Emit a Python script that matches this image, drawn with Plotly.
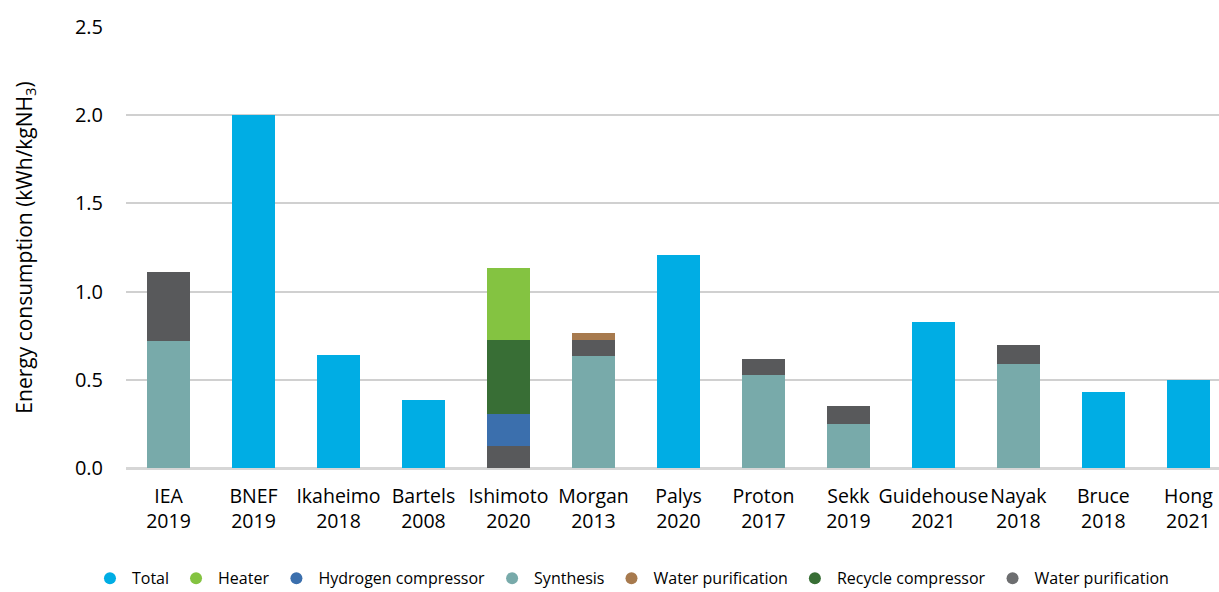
import plotly.graph_objects as go

categories = [
    "IEA<br>2019", "BNEF<br>2019", "Ikaheimo<br>2018", "Bartels<br>2008",
    "Ishimoto<br>2020", "Morgan<br>2013", "Palys<br>2020", "Proton<br>2017",
    "Sekk<br>2019", "Guidehouse<br>2021", "Nayak<br>2018", "Bruce<br>2018",
    "Hong<br>2021",
]

# stacked components per study (kWh/kgNH3), None where not reported
total = [None, 2.0, 0.64, 0.385, None, None, 1.207, None, None, 0.827, None, 0.43, 0.5]
synthesis = [0.72, None, None, None, None, 0.635, None, 0.527, 0.25, None, 0.59, None, None]
water_purif_grey = [0.39, None, None, None, 0.125, 0.09, None, 0.091, 0.1, None, 0.107, None, None]
hydrogen_comp = [None, None, None, None, 0.181, None, None, None, None, None, None, None, None]
recycle_comp = [None, None, None, None, 0.419, None, None, None, None, None, None, None, None]
heater = [None, None, None, None, 0.408, None, None, None, None, None, None, None, None]
water_purif_brown = [None, None, None, None, None, 0.04, None, None, None, None, None, None, None]

COLORS = {
    "Total": "#00ADE4",
    "Heater": "#84C341",
    "Hydrogen compressor": "#3B6FAD",
    "Synthesis": "#78AAAA",
    "Water purification brown": "#A77A4E",
    "Recycle compressor": "#386E35",
    "Water purification grey": "#58595B",
}

# drawing order = stacking order, bottom to top
stack = [
    ("Total", total),
    ("Synthesis", synthesis),
    ("Water purification grey", water_purif_grey),
    ("Hydrogen compressor", hydrogen_comp),
    ("Recycle compressor", recycle_comp),
    ("Heater", heater),
    ("Water purification brown", water_purif_brown),
]

legend_order = [
    ("Total", "Total"),
    ("Heater", "Heater"),
    ("Hydrogen compressor", "Hydrogen compressor"),
    ("Synthesis", "Synthesis"),
    ("Water purification brown", "Water purification"),
    ("Recycle compressor", "Recycle compressor"),
    ("Water purification grey", "Water purification"),
]

fig = go.Figure()
for key, values in stack:
    fig.add_trace(go.Bar(
        x=categories, y=values, name=key, showlegend=False,
        marker=dict(color=COLORS[key], line=dict(width=0)),
    ))

# round legend markers, drawn as empty scatter traces
for key, label in legend_order:
    legend_color = "#6D6E70" if key == "Water purification grey" else COLORS[key]
    fig.add_trace(go.Scatter(
        x=[None], y=[None], mode="markers", name=label,
        marker=dict(symbol="circle", size=16, color=legend_color),
    ))

fig.update_layout(
    width=1219, height=592,
    barmode="stack", bargap=0.5,
    plot_bgcolor="white", paper_bgcolor="white",
    font=dict(family="Open Sans, Noto Sans, sans-serif", color="#000000", size=18),
    margin=dict(l=126, r=0, t=27, b=124, autoexpand=False),
    legend=dict(
        orientation="h", x=0.462, xanchor="center",
        y=-0.25, yanchor="middle", itemwidth=34,
        font=dict(size=16), itemsizing="constant", traceorder="normal",
    ),
)
fig.update_xaxes(
    range=[-0.5, 12.36], showgrid=False, showline=False, ticks="",
    tickangle=0, tickfont=dict(size=19.5), ticklabelstandoff=14,
)
fig.update_yaxes(
    range=[0, 2.5], dtick=0.5, tickformat=".1f",
    showgrid=True, gridcolor="#D0D0D0", gridwidth=1.5,
    zeroline=True, zerolinecolor="#D6D6D6", zerolinewidth=2.5,
    tickfont=dict(size=20), ticklabelstandoff=22,
    title=dict(text="Energy consumption (kWh/kgNH<sub>3</sub>)", font=dict(size=21), standoff=36),
)

fig.write_html(
    "out.html",
    config={"displayModeBar": False},
    post_script="document.body.style.margin='0';document.body.style.overflow='hidden';",
)
